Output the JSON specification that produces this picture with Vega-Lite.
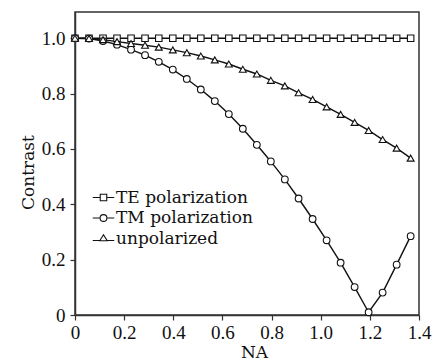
{
  "$schema": "https://vega.github.io/schema/vega-lite/v6.json",
  "width": 344,
  "height": 303,
  "autosize": {"type": "none"},
  "padding": {"left": 75, "top": 12, "right": 20, "bottom": 45},
  "background": "white",
  "config": {
    "view": {"stroke": "#333333", "strokeWidth": 1.5},
    "axis": {
      "domainColor": "#333333", "domainWidth": 1.5,
      "tickColor": "#333333", "tickWidth": 1.2, "tickSize": 5,
      "grid": false,
      "labelFont": "Liberation Serif", "labelFontSize": 19, "labelColor": "#111111",
      "titleFont": "DejaVu Serif", "titleFontSize": 17, "titleFontWeight": "normal", "titleColor": "#111111"
    },
    "legend": {
      "title": null, "orient": "none", "legendX": 20,
      "symbolSize": 100, "symbolStrokeWidth": 1.1, "symbolStrokeColor": "#111111", "symbolFillColor": "white",
      "labelFont": "DejaVu Serif", "labelFontSize": 17, "labelColor": "#111111", "labelLimit": 300,
      "labelOffset": 4, "padding": 0
    }
  },
  "data": {
    "values": [
      {"NA": 0.000, "Contrast": 1.000, "series": "TE polarization"},
      {"NA": 0.057, "Contrast": 1.000, "series": "TE polarization"},
      {"NA": 0.114, "Contrast": 1.000, "series": "TE polarization"},
      {"NA": 0.171, "Contrast": 1.000, "series": "TE polarization"},
      {"NA": 0.228, "Contrast": 1.000, "series": "TE polarization"},
      {"NA": 0.285, "Contrast": 1.000, "series": "TE polarization"},
      {"NA": 0.341, "Contrast": 1.000, "series": "TE polarization"},
      {"NA": 0.398, "Contrast": 1.000, "series": "TE polarization"},
      {"NA": 0.455, "Contrast": 1.000, "series": "TE polarization"},
      {"NA": 0.512, "Contrast": 1.000, "series": "TE polarization"},
      {"NA": 0.569, "Contrast": 1.000, "series": "TE polarization"},
      {"NA": 0.626, "Contrast": 1.000, "series": "TE polarization"},
      {"NA": 0.683, "Contrast": 1.000, "series": "TE polarization"},
      {"NA": 0.740, "Contrast": 1.000, "series": "TE polarization"},
      {"NA": 0.797, "Contrast": 1.000, "series": "TE polarization"},
      {"NA": 0.854, "Contrast": 1.000, "series": "TE polarization"},
      {"NA": 0.910, "Contrast": 1.000, "series": "TE polarization"},
      {"NA": 0.967, "Contrast": 1.000, "series": "TE polarization"},
      {"NA": 1.024, "Contrast": 1.000, "series": "TE polarization"},
      {"NA": 1.081, "Contrast": 1.000, "series": "TE polarization"},
      {"NA": 1.138, "Contrast": 1.000, "series": "TE polarization"},
      {"NA": 1.195, "Contrast": 1.000, "series": "TE polarization"},
      {"NA": 1.252, "Contrast": 1.000, "series": "TE polarization"},
      {"NA": 1.309, "Contrast": 1.000, "series": "TE polarization"},
      {"NA": 1.366, "Contrast": 1.000, "series": "TE polarization"},
      {"NA": 0.000, "Contrast": 1.000, "series": "TM polarization"},
      {"NA": 0.057, "Contrast": 0.999, "series": "TM polarization"},
      {"NA": 0.114, "Contrast": 0.990, "series": "TM polarization"},
      {"NA": 0.171, "Contrast": 0.977, "series": "TM polarization"},
      {"NA": 0.228, "Contrast": 0.959, "series": "TM polarization"},
      {"NA": 0.285, "Contrast": 0.939, "series": "TM polarization"},
      {"NA": 0.341, "Contrast": 0.915, "series": "TM polarization"},
      {"NA": 0.398, "Contrast": 0.887, "series": "TM polarization"},
      {"NA": 0.455, "Contrast": 0.853, "series": "TM polarization"},
      {"NA": 0.512, "Contrast": 0.815, "series": "TM polarization"},
      {"NA": 0.569, "Contrast": 0.773, "series": "TM polarization"},
      {"NA": 0.626, "Contrast": 0.726, "series": "TM polarization"},
      {"NA": 0.683, "Contrast": 0.673, "series": "TM polarization"},
      {"NA": 0.740, "Contrast": 0.615, "series": "TM polarization"},
      {"NA": 0.797, "Contrast": 0.555, "series": "TM polarization"},
      {"NA": 0.854, "Contrast": 0.490, "series": "TM polarization"},
      {"NA": 0.910, "Contrast": 0.421, "series": "TM polarization"},
      {"NA": 0.967, "Contrast": 0.347, "series": "TM polarization"},
      {"NA": 1.024, "Contrast": 0.270, "series": "TM polarization"},
      {"NA": 1.081, "Contrast": 0.189, "series": "TM polarization"},
      {"NA": 1.138, "Contrast": 0.101, "series": "TM polarization"},
      {"NA": 1.195, "Contrast": 0.010, "series": "TM polarization"},
      {"NA": 1.252, "Contrast": 0.081, "series": "TM polarization"},
      {"NA": 1.309, "Contrast": 0.182, "series": "TM polarization"},
      {"NA": 1.366, "Contrast": 0.285, "series": "TM polarization"},
      {"NA": 0.000, "Contrast": 1.000, "series": "unpolarized"},
      {"NA": 0.057, "Contrast": 0.999, "series": "unpolarized"},
      {"NA": 0.114, "Contrast": 0.995, "series": "unpolarized"},
      {"NA": 0.171, "Contrast": 0.988, "series": "unpolarized"},
      {"NA": 0.228, "Contrast": 0.981, "series": "unpolarized"},
      {"NA": 0.285, "Contrast": 0.975, "series": "unpolarized"},
      {"NA": 0.341, "Contrast": 0.968, "series": "unpolarized"},
      {"NA": 0.398, "Contrast": 0.958, "series": "unpolarized"},
      {"NA": 0.455, "Contrast": 0.948, "series": "unpolarized"},
      {"NA": 0.512, "Contrast": 0.936, "series": "unpolarized"},
      {"NA": 0.569, "Contrast": 0.922, "series": "unpolarized"},
      {"NA": 0.626, "Contrast": 0.907, "series": "unpolarized"},
      {"NA": 0.683, "Contrast": 0.888, "series": "unpolarized"},
      {"NA": 0.740, "Contrast": 0.871, "series": "unpolarized"},
      {"NA": 0.797, "Contrast": 0.848, "series": "unpolarized"},
      {"NA": 0.854, "Contrast": 0.828, "series": "unpolarized"},
      {"NA": 0.910, "Contrast": 0.803, "series": "unpolarized"},
      {"NA": 0.967, "Contrast": 0.779, "series": "unpolarized"},
      {"NA": 1.024, "Contrast": 0.752, "series": "unpolarized"},
      {"NA": 1.081, "Contrast": 0.725, "series": "unpolarized"},
      {"NA": 1.138, "Contrast": 0.696, "series": "unpolarized"},
      {"NA": 1.195, "Contrast": 0.667, "series": "unpolarized"},
      {"NA": 1.252, "Contrast": 0.634, "series": "unpolarized"},
      {"NA": 1.309, "Contrast": 0.603, "series": "unpolarized"},
      {"NA": 1.366, "Contrast": 0.567, "series": "unpolarized"}
    ]
  },
  "encoding": {
    "x": {
      "field": "NA", "type": "quantitative",
      "scale": {"domain": [0, 1.4], "nice": false, "zero": false},
      "axis": {
        "title": "NA", "values": [0, 0.2, 0.4, 0.6, 0.8, 1.0, 1.2, 1.4],
        "labelExpr": "datum.value === 0 ? '0' : format(datum.value, '.1f')",
        "labelPadding": 3, "labelFlush": false, "labelOverlap": false,
        "titleX": 179, "titleY": 42, "titleBaseline": "alphabetic", "titleAnchor": null
      }
    },
    "y": {
      "field": "Contrast", "type": "quantitative",
      "scale": {"domain": [0, 1.095], "nice": false},
      "axis": {
        "title": "Contrast", "values": [0, 0.2, 0.4, 0.6, 0.8, 1.0],
        "labelExpr": "datum.value === 0 ? '0' : format(datum.value, '.1f')",
        "labelPadding": 5, "labelFlush": false, "labelOverlap": false,
        "titleAngle": -90, "titleX": -42, "titleY": 160, "titleBaseline": "alphabetic", "titleAlign": "center"
      }
    }
  },
  "layer": [
    {
      "mark": {"type": "line", "color": "#111111", "strokeWidth": 1.4},
      "encoding": {"detail": {"field": "series"}}
    },
    {
      "transform": [{"filter": "datum.series === 'TE polarization'"}],
      "mark": {"type": "point", "shape": "square", "filled": false, "fill": "white", "fillOpacity": 1, "strokeWidth": 1.1, "opacity": 1, "size": 42},
      "encoding": {
        "stroke": {
          "field": "series", "type": "nominal",
          "scale": {"domain": ["TE polarization"], "range": ["#111111"]},
          "legend": {"legendY": 177, "symbolType": "M-2.15,0H-0.65M-0.65,-0.65H0.65V0.65H-0.65ZM0.65,0H2.15"}
        }
      }
    },
    {
      "transform": [{"filter": "datum.series === 'TM polarization'"}],
      "mark": {"type": "point", "shape": "circle", "filled": false, "fill": "white", "fillOpacity": 1, "strokeWidth": 1.1, "opacity": 1, "size": 45},
      "encoding": {
        "stroke": {
          "field": "series", "type": "nominal",
          "scale": {"domain": ["TM polarization"], "range": ["#111111"]},
          "legend": {"legendY": 197.5, "symbolType": "M-2.15,0H-0.68M-0.68,0A0.68,0.68 0 1,0 0.68,0A0.68,0.68 0 1,0 -0.68,0ZM0.68,0H2.15"}
        }
      }
    },
    {
      "transform": [{"filter": "datum.series === 'unpolarized'"}],
      "mark": {"type": "point", "shape": "triangle-up", "filled": false, "fill": "white", "fillOpacity": 1, "strokeWidth": 1.1, "opacity": 1, "size": 48},
      "encoding": {
        "stroke": {
          "field": "series", "type": "nominal",
          "scale": {"domain": ["unpolarized"], "range": ["#111111"]},
          "legend": {"legendY": 218, "symbolType": "M-2.15,0.4H-0.75M-0.75,0.45L0,-0.75L0.75,0.45ZM0.75,0.4H2.15"}
        }
      }
    }
  ],
  "resolve": {"scale": {"stroke": "independent"}, "legend": {"stroke": "independent"}}
}
